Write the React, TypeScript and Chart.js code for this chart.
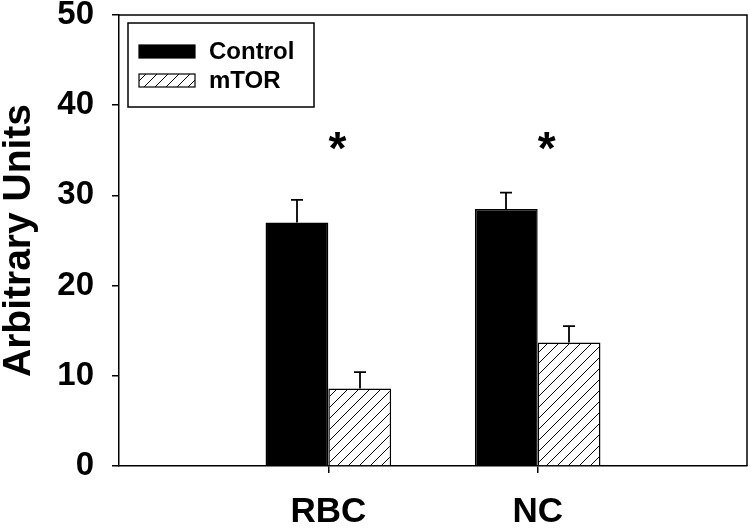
import React, { useEffect, useRef } from "react";
import { Chart, registerables } from "chart.js";

Chart.register(...registerables);

const categories = ["RBC", "NC"];
const controlValues = [27.0, 28.5];
const controlErrors = [2.5, 1.8];
const mtorValues = [8.6, 13.7];
const mtorErrors = [1.8, 1.8];
const significanceMarks = ["*", "*"];
const significanceY = [36, 36];
const yTicks = [0, 10, 20, 30, 40, 50];

const FONT = "'Liberation Sans', Arial, sans-serif";

function makeHatch(spacing: number): CanvasPattern | string {
  const c = document.createElement("canvas");
  c.width = spacing;
  c.height = spacing;
  const g = c.getContext("2d");
  if (!g) return "#fff";
  g.fillStyle = "#fff";
  g.fillRect(0, 0, spacing, spacing);
  g.strokeStyle = "#000";
  g.lineWidth = 1;
  g.beginPath();
  g.moveTo(0, spacing);
  g.lineTo(spacing, 0);
  g.moveTo(-spacing / 2, spacing / 2);
  g.lineTo(spacing / 2, -spacing / 2);
  g.moveTo(spacing / 2, spacing * 1.5);
  g.lineTo(spacing * 1.5, spacing / 2);
  g.stroke();
  const p = g.createPattern(c, "repeat");
  return p || "#fff";
}

const zeroPad = (s: any) => {
  s.paddingTop = 0;
  s.paddingBottom = 0;
  s.paddingLeft = 0;
  s.paddingRight = 0;
};

export default function App() {
  const ref = useRef<HTMLCanvasElement | null>(null);

  useEffect(() => {
    document.body.style.margin = "0";
    const canvas = ref.current;
    if (!canvas) return;
    const hatch = makeHatch(11);
    const labels = ["", ...categories, ""];
    const pad = (arr: number[]) => [null, ...arr, null];
    const errs = [pad(controlErrors), pad(mtorErrors)];

    const frame = {
      id: "frame",
      afterDraw(chart: any) {
        const { ctx, chartArea } = chart;
        ctx.save();
        ctx.strokeStyle = "#000";
        ctx.lineWidth = 1.5;
        ctx.beginPath();
        ctx.moveTo(chartArea.left, chartArea.top);
        ctx.lineTo(chartArea.right, chartArea.top);
        ctx.lineTo(chartArea.right, chartArea.bottom);
        ctx.stroke();
        ctx.restore();
      },
    };

    const errorBars = {
      id: "errorBars",
      afterDatasetsDraw(chart: any) {
        const { ctx } = chart;
        const yScale = chart.scales.y;
        ctx.save();
        ctx.strokeStyle = "#000";
        ctx.lineWidth = 1.8;
        chart.data.datasets.forEach((ds: any, di: number) => {
          const meta = chart.getDatasetMeta(di);
          meta.data.forEach((el: any, j: number) => {
            const v = ds.data[j];
            const e = errs[di][j];
            if (v == null || e == null) return;
            const yt = yScale.getPixelForValue(v + e);
            const x = Math.round(el.x);
            ctx.beginPath();
            ctx.moveTo(x, el.y);
            ctx.lineTo(x, yt);
            ctx.moveTo(x - 6, yt);
            ctx.lineTo(x + 6, yt);
            ctx.stroke();
          });
        });
        ctx.restore();
      },
    };

    const marks = {
      id: "marks",
      afterDatasetsDraw(chart: any) {
        const { ctx } = chart;
        const xs = chart.scales.x;
        const ys = chart.scales.y;
        ctx.save();
        ctx.fillStyle = "#000";
        ctx.font = `bold 46px ${FONT}`;
        ctx.textAlign = "center";
        ctx.textBaseline = "middle";
        categories.forEach((c, i) => {
          const x = xs.getPixelForValue(i + 1) + 9;
          const y = ys.getPixelForValue(significanceY[i]);
          ctx.fillText(significanceMarks[i], x, y + 10);
        });
        ctx.restore();
      },
    };

    const legendBox = {
      id: "legendBox",
      afterDraw(chart: any) {
        const { ctx } = chart;
        ctx.save();
        ctx.strokeStyle = "#000";
        ctx.lineWidth = 1.5;
        ctx.fillStyle = "#fff";
        ctx.fillRect(128, 23, 186, 84);
        ctx.strokeRect(128, 23, 186, 84);
        const items = chart.data.datasets;
        items.forEach((ds: any, i: number) => {
          const top = 45 + i * 29;
          ctx.fillStyle = ds.backgroundColor;
          ctx.fillRect(139, top, 56, 13);
          ctx.lineWidth = 1.2;
          ctx.strokeRect(139, top, 56, 13);
          ctx.fillStyle = "#000";
          ctx.font = `bold 24px ${FONT}`;
          ctx.textAlign = "left";
          ctx.textBaseline = "middle";
          ctx.fillText(ds.label, 209, top + 7);
        });
        ctx.restore();
      },
    };

    const chart = new Chart(canvas, {
      type: "bar",
      data: {
        labels,
        datasets: [
          {
            label: "Control",
            data: pad(controlValues),
            backgroundColor: "#000",
            borderColor: "#000",
            borderWidth: 1.5,
          },
          {
            label: "mTOR",
            data: pad(mtorValues),
            backgroundColor: hatch as any,
            borderColor: "#000",
            borderWidth: 1.5,
          },
        ],
      },
      options: {
        animation: false,
        responsive: false,
        maintainAspectRatio: false,
        layout: { autoPadding: false, padding: { top: 15, right: 3, left: 0, bottom: 0 } },
        datasets: {
          bar: { categoryPercentage: 0.6, barPercentage: 1.0 },
        },
        plugins: {
          legend: { display: false },
          tooltip: { enabled: false },
        },
        scales: {
          x: {
            offset: false,
            grid: {
              offset: false,
              drawOnChartArea: false,
              drawTicks: true,
              tickLength: 7,
              lineWidth: 1.5,
              color: (ctx: any) =>
                ctx.index > 0 && ctx.index < labels.length - 1 ? "#000" : "rgba(0,0,0,0)",
            },
            border: { display: true, color: "#000", width: 1.5 },
            ticks: {
              color: "#000",
              font: { family: FONT, size: 35, weight: "bold" },
              padding: 18,
              maxRotation: 0,
              autoSkip: false,
            },
            afterFit: (s: any) => {
              s.height = 63;
              zeroPad(s);
            },
          },
          y: {
            min: 0,
            max: 50,
            afterBuildTicks: (s: any) => {
              s.ticks = yTicks.map((v) => ({ value: v }));
            },
            grid: {
              drawOnChartArea: false,
              drawTicks: true,
              tickLength: 7,
              lineWidth: 1.5,
              color: "#000",
            },
            border: { display: true, color: "#000", width: 1.5 },
            ticks: {
              color: "#000",
              font: { family: FONT, size: 33, weight: "bold" },
              padding: 18,
            },
            title: {
              display: true,
              text: "Arbitrary Units",
              color: "#000",
              font: { family: FONT, size: 39, weight: "bold", lineHeight: 1 },
              padding: { top: 0, bottom: 0 },
            },
            afterFit: (s: any) => {
              s.width = 119;
              zeroPad(s);
            },
          },
        },
      },
      plugins: [frame, errorBars, marks, legendBox],
    });
    return () => chart.destroy();
  }, []);

  return (
    <div style={{ width: 750, height: 529, background: "#fff" }}>
      <canvas ref={ref} width={750} height={529} style={{ display: "block" }} />
    </div>
  );
}
